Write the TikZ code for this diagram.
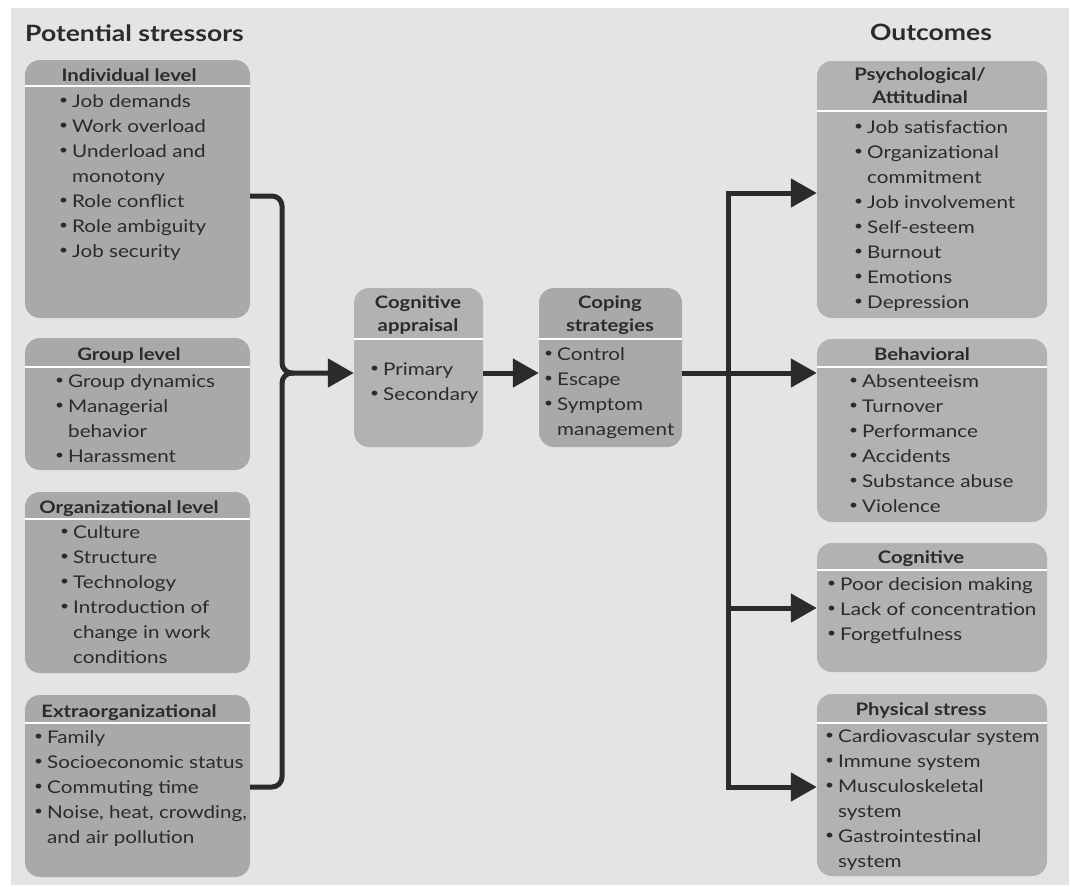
\documentclass[tikz,border=0pt]{standalone}
\usepackage{fontspec}
\setmainfont[FakeStretch=1.18]{Lato}
\usetikzlibrary{arrows.meta}
\definecolor{paper}{HTML}{E4E4E4}
\definecolor{boxgray}{HTML}{A9A9A9}
\definecolor{boxlight}{HTML}{B2B2B2}
\definecolor{ink}{HTML}{2B2B2B}
\newcommand{\bul}{\makebox[10pt][l]{\hspace*{-3pt}\raisebox{0.25ex}{\scalebox{0.75}{\textbullet}}}}
\newcommand{\cont}{\hspace*{10pt}}
\newcommand{\lines}[1]{\begin{tabular}[t]{@{}l@{}}#1\end{tabular}}
\newcommand{\clines}[1]{\begin{tabular}[t]{@{}c@{}}#1\end{tabular}}
\begin{document}
\begin{tikzpicture}[x=1pt, y=-1pt,
  box/.style={fill=boxgray, rounded corners=15pt, inner sep=0, minimum width=225},
  hdr/.style={draw=white, line width=1.5pt},
  heading/.style={font=\fontsize{22.5}{25}\selectfont\bfseries, text=ink, inner sep=0},
  title/.style={font=\fontsize{17.2}{23.5}\selectfont\bfseries, text=ink, inner sep=0, anchor=base},
  item/.style={font=\fontsize{17.5}{25}\selectfont, text=ink, inner sep=0, anchor=base west},
  link/.style={draw=ink, line width=5pt},
  arr/.style={-{Triangle[length=26pt, width=28pt]}},
  arrs/.style={{Triangle[length=26pt, width=28pt]}-{Triangle[length=26pt, width=28pt]}}]
\useasboundingbox (0,0) rectangle (1070,886);
\fill[white] (0,0) rectangle (1070,886);
\fill[paper] (11,8) rectangle (1069,885);

\node[heading, anchor=base west] (lhead) at (25,41) {Potential stressors};
\node[heading, anchor=base] (rhead) at (931,40) {Outcomes};

% stressors
\node[box, minimum height=258] (ind) at (137.5,189) {};
\draw[hdr] (25,86) -- (250,86);
\node[title] (indT) at (129,81) {Individual level};
\node[item] (indL) at (62,107) {\lines{\bul Job demands\\ \bul Work overload\\ \bul Underload and\\ \cont monotony\\ \bul Role conflict\\ \bul Role ambiguity\\ \bul Job security}};

\node[box, minimum height=132] (grp) at (137.5,404) {};
\draw[hdr] (25,367) -- (250,367);
\node[title] (grpT) at (129,360) {Group level};
\node[item] (grpL) at (58,387) {\lines{\bul Group dynamics\\ \bul Managerial\\ \cont behavior\\ \bul Harassment}};

\node[box, minimum height=181] (org) at (137.5,582.5) {};
\draw[hdr] (25,519) -- (250,519);
\node[title] (orgT) at (129,513) {Organizational level};
\node[item] (orgL) at (63,538) {\lines{\bul Culture\\ \bul Structure\\ \bul Technology\\ \bul Introduction of\\ \cont change in work\\ \cont conditions}};

\node[box, minimum height=182] (ext) at (137.5,786) {};
\draw[hdr] (25,723) -- (250,723);
\node[title] (extT) at (129,717) {Extraorganizational};
\node[item] (extL) at (37,743) {\lines{\bul Family\\ \bul Socioeconomic status\\ \bul Commuting time\\ \bul Noise, heat, crowding,\\ \cont and air pollution}};

% middle
\node[box, fill=boxlight, minimum width=129, minimum height=159] (app) at (418.5,367.5) {};
\draw[hdr] (354,339) -- (483,339);
\node[title] (appT) at (418,308) {\clines{Cognitive\\appraisal}};
\node[item] (appL) at (373,375) {\lines{\bul Primary\\ \bul Secondary}};

\node[box, minimum width=143, minimum height=159] (cop) at (610.5,367.5) {};
\draw[hdr] (539,339) -- (682,339);
\node[title] (copT) at (610,308) {\clines{Coping\\strategies}};
\node[item] (copL) at (547,360) {\lines{\bul Control\\ \bul Escape\\ \bul Symptom\\ \cont management}};

% outcomes
\node[box, fill=boxlight, minimum width=230, minimum height=257] (psy) at (932,189.5) {};
\draw[hdr] (817,111) -- (1047,111);
\node[title] (psyT) at (920,80) {\clines{Psychological/\\Attitudinal}};
\node[item] (psyL) at (857,133) {\lines{\bul Job satisfaction\\ \bul Organizational\\ \cont commitment\\ \bul Job involvement\\ \bul Self-esteem\\ \bul Burnout\\ \bul Emotions\\ \bul Depression}};

\node[box, fill=boxlight, minimum width=230, minimum height=183] (beh) at (932,430.5) {};
\draw[hdr] (817,367) -- (1047,367);
\node[title] (behT) at (922,360) {Behavioral};
\node[item] (behL) at (852,387) {\lines{\bul Absenteeism\\ \bul Turnover\\ \bul Performance\\ \bul Accidents\\ \bul Substance abuse\\ \bul Violence}};

\node[box, fill=boxlight, minimum width=230, minimum height=129] (cog) at (932,607.5) {};
\draw[hdr] (817,570) -- (1047,570);
\node[title] (cogT) at (921,563) {Cognitive};
\node[item] (cogL) at (830,590) {\lines{\bul Poor decision making\\ \bul Lack of concentration\\ \bul Forgetfulness}};

\node[box, fill=boxlight, minimum width=230, minimum height=182] (phy) at (932,785) {};
\draw[hdr] (817,723) -- (1047,723);
\node[title] (phyT) at (921,715) {Physical stress};
\node[item] (phyL) at (828,742) {\lines{\bul Cardiovascular system\\ \bul Immune system\\ \bul Musculoskeletal\\ \cont system\\ \bul Gastrointestinal\\ \cont system}};

% connectors
\coordinate (jn) at (282,373);
\coordinate (rt) at (728,193);
\coordinate (rb) at (728,787);
\draw[link, arr, rounded corners=10pt] ([yshift=-7pt]ind.east) -| (jn) -- (app.west |- jn);
\draw[link, rounded corners=10pt] (ext.east |- rb) -| (jn) -- ++(12,0);
\draw[link, arr] (app.east |- jn) -- (cop.west |- jn);
\draw[link, arr] (cop.east |- jn) -- (beh.west |- jn);
\draw[link, arrs] (psy.west |- rt) -- (rt) -- (rb) -- (phy.west |- rb);
\draw[link, arr] (728,608) -- (cog.west |- 0,608);
\end{tikzpicture}
\end{document}
